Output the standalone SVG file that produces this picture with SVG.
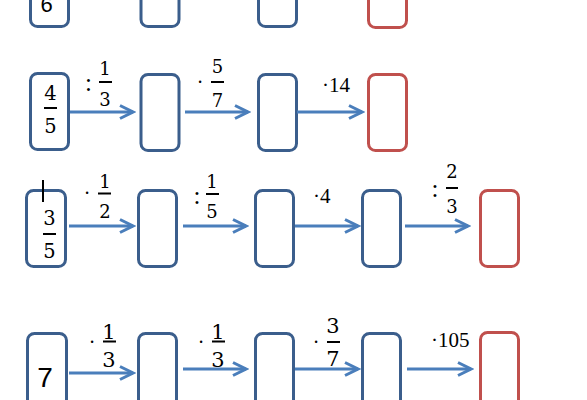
<svg xmlns="http://www.w3.org/2000/svg" width="587" height="400" viewBox="0 0 587 400">
<defs>
<style>
.box{fill:#fff;stroke:#3B5E8C;stroke-width:3}
.red{fill:#fff;stroke:#C0504D;stroke-width:3}
.arr{stroke:#4A7EBB;stroke-width:3;fill:none}
.bar{stroke:#000;stroke-width:2}
.f{font-family:"DejaVu Serif","Liberation Serif",serif;font-size:18px;fill:#000;text-anchor:middle}
.fb{font-family:"DejaVu Serif","Liberation Serif",serif;font-size:19.5px;fill:#000;text-anchor:middle}
.f4{font-family:"DejaVu Serif","Liberation Serif",serif;font-size:21px;fill:#000;text-anchor:middle}
.op{font-family:"Liberation Serif","DejaVu Serif",serif;font-size:20px;fill:#000;text-anchor:middle}
.col{font-family:"Liberation Serif","DejaVu Serif",serif;font-size:25px;fill:#000;text-anchor:middle}
.t{font-family:"Liberation Serif","Times New Roman",serif;font-size:21px;fill:#000}
.s{font-family:"Liberation Sans",Arial,sans-serif;fill:#000;text-anchor:middle}
</style>
<marker id="ah" markerUnits="userSpaceOnUse" markerWidth="18" markerHeight="16" viewBox="0 0 18 16" refX="15" refY="8" orient="auto">
<path d="M2,1.5 L15,8 L2,14.5" fill="none" stroke="#4A7EBB" stroke-width="3"/>
</marker>
</defs>

<!-- Row 1 -->
<g id="r1n1"><rect class="box" x="30.5" y="-60" width="38" height="86.5" rx="7"/><text class="s" x="46.5" y="12" font-size="22">6</text></g>
<g id="r1n2"><rect class="box" x="141" y="-60" width="38" height="86.5" rx="7"/></g>
<g id="r1n3"><rect class="box" x="258.5" y="-60" width="38" height="86.5" rx="7"/></g>
<g id="r1n4"><rect class="red" x="368.5" y="-60" width="38" height="87.5" rx="7"/></g>

<!-- Row 2 -->
<g id="r2n1"><rect class="box" x="30.5" y="73.5" width="38" height="76" rx="7"/>
<text class="fb" x="50.5" y="100">4</text><line class="bar" x1="44" y1="108" x2="57" y2="108"/><text class="fb" x="50.5" y="133">5</text></g>
<g id="r2n2"><rect class="box" x="141" y="74.5" width="38" height="76" rx="7"/></g>
<g id="r2n3"><rect class="box" x="258.5" y="74.5" width="38" height="76" rx="7"/></g>
<g id="r2n4"><rect class="red" x="368.5" y="74.5" width="38" height="76" rx="7"/></g>

<!-- Row 3 -->
<g id="r3n1"><rect class="box" x="26.5" y="190.5" width="39" height="76" rx="7"/>
<line x1="43" y1="180" x2="43" y2="202" stroke="#000" stroke-width="2"/>
<text class="fb" x="49.5" y="225">3</text><line class="bar" x1="43" y1="234" x2="56" y2="234"/><text class="fb" x="49.5" y="258">5</text></g>
<g id="r3n2"><rect class="box" x="138.5" y="190.5" width="38" height="76" rx="7"/></g>
<g id="r3n3"><rect class="box" x="255.5" y="190.5" width="38" height="76" rx="7"/></g>
<g id="r3n4"><rect class="box" x="362.5" y="190.5" width="38" height="76" rx="7"/></g>
<g id="r3n5"><rect class="red" x="480.5" y="190.5" width="38" height="76" rx="7"/></g>

<!-- Row 4 -->
<g id="r4n1"><rect class="box" x="27.5" y="333.5" width="39" height="100" rx="7"/><text class="s" x="45" y="387" font-size="28">7</text></g>
<g id="r4n2"><rect class="box" x="138.5" y="333.5" width="38" height="100" rx="7"/></g>
<g id="r4n3"><rect class="box" x="255.5" y="333.5" width="38" height="100" rx="7"/></g>
<g id="r4n4"><rect class="box" x="362.5" y="333.5" width="38" height="100" rx="7"/></g>
<g id="r4n5"><rect class="red" x="480.5" y="332.5" width="38" height="100" rx="7"/></g>

<!-- Connectors -->
<g id="connectors">
<line class="arr" x1="70" y1="112" x2="133" y2="112" marker-end="url(#ah)"/>
<line class="arr" x1="185" y1="112" x2="248" y2="112" marker-end="url(#ah)"/>
<line class="arr" x1="297" y1="112" x2="362" y2="112" marker-end="url(#ah)"/>

<line class="arr" x1="69" y1="226" x2="133" y2="226" marker-end="url(#ah)"/>
<line class="arr" x1="183" y1="226" x2="246" y2="226" marker-end="url(#ah)"/>
<line class="arr" x1="295" y1="226" x2="358" y2="226" marker-end="url(#ah)"/>
<line class="arr" x1="405" y1="226" x2="468" y2="226" marker-end="url(#ah)"/>

<line class="arr" x1="69" y1="373" x2="133" y2="373" marker-end="url(#ah)"/>
<line class="arr" x1="183" y1="369" x2="246" y2="369" marker-end="url(#ah)"/>
<line class="arr" x1="295" y1="369" x2="358" y2="369" marker-end="url(#ah)"/>
<line class="arr" x1="407" y1="369" x2="471" y2="369" marker-end="url(#ah)"/>
</g>

<!-- Labels -->
<g id="labels">
<!-- row 2 -->
<text class="col" x="88.5" y="91">:</text>
<text class="f" x="105" y="75">1</text><line class="bar" x1="99" y1="82" x2="112" y2="82"/><text class="f" x="105" y="106">3</text>
<text class="op" x="200" y="89">·</text>
<text class="f" x="217.5" y="73">5</text><line class="bar" x1="211" y1="82" x2="224" y2="82"/><text class="f" x="217.5" y="107">7</text>
<text class="t" x="322" y="92">·14</text>

<!-- row 3 -->
<text class="op" x="87" y="200">·</text>
<text class="f" x="105" y="188">1</text><line class="bar" x1="98" y1="193.5" x2="111" y2="193.5"/><text class="f" x="105" y="218">2</text>
<text class="col" x="197" y="204">:</text>
<text class="f" x="212" y="188">1</text><line class="bar" x1="206" y1="194" x2="219" y2="194"/><text class="f" x="212" y="218">5</text>
<text class="t" x="313" y="203">·4</text>
<text class="col" x="435" y="197">:</text>
<text class="f" x="452" y="178">2</text><line class="bar" x1="446" y1="188" x2="458" y2="188"/><text class="f" x="452" y="213">3</text>

<!-- row 4 -->
<text class="op" x="92" y="349">·</text>
<text class="f4" x="109" y="339">1</text><line class="bar" x1="103" y1="341.5" x2="116" y2="341.5"/><text class="f4" x="109" y="367">3</text>
<text class="op" x="201" y="349">·</text>
<text class="f4" x="218" y="339">1</text><line class="bar" x1="212" y1="341.5" x2="225" y2="341.5"/><text class="f4" x="218" y="367">3</text>
<text class="op" x="316" y="349">·</text>
<text class="f4" x="333" y="333">3</text><line class="bar" x1="327" y1="342" x2="340" y2="342"/><text class="f4" x="333" y="366">7</text>
<text class="t" x="431" y="347">·105</text>
</g>
</svg>
